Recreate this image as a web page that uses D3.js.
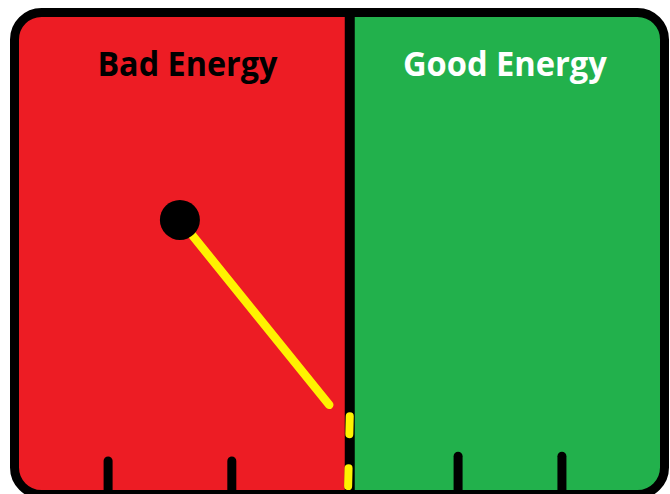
<!DOCTYPE html>
<meta charset="utf-8">
<html>
  <head>
    <style>
     body { margin: 0; background: #fff; }
     text.label {
       font-family: "Open Sans", "DejaVu Sans", sans-serif;
       font-weight: 700;
       font-size: 34px;
     }
    </style>
    <script src="https://d3js.org/d3.v7.min.js"></script>
  </head>
  <body>
    <div id="chart"></div>
    <script type="text/javascript">
     // meter read in 0..100 units on both axes of the inner panel
     var zones = ["Bad Energy", "Good Energy"],
         zoneFrom = [0, 51.6],
         zoneTo = [51.6, 100],
         zoneColors = ["#ED1C24", "#22B14C"],
         labelColors = ["#000", "#fff"],
         labelWidths = [180, 204],
         tickValues = [13.9, 33.2, 68.5, 84.7],
         tickTops = [93, 93, 92, 92],
         divider = 51.6,
         needleFrom = [25.1, 42.9],
         needleTo = [48.4, 82.0],
         markerFrom = [51.6, 84.4],
         markerTo = [51.3, 102];

     var width = 670, height = 494;
     var box = { left: 14.5, top: 12.5, right: 664.5, bottom: 494.5 };

     var x = d3.scaleLinear().domain([0, 100]).range([19, 660]);
     var y = d3.scaleLinear().domain([0, 100]).range([17, 490]);

     var svg = d3.select("#chart").append("svg")
                 .attr("width", width)
                 .attr("height", height);

     svg.append("clipPath").attr("id", "frame")
        .append("rect")
        .attr("x", box.left).attr("y", box.top)
        .attr("width", box.right - box.left)
        .attr("height", box.bottom - box.top)
        .attr("rx", 27).attr("ry", 27);

     var panel = svg.append("g").attr("clip-path", "url(#frame)");

     panel.selectAll(".zone")
          .data(zones)
          .enter().append("rect")
          .attr("class", "zone")
          .attr("x", function (d, i) { return i === 0 ? 0 : x(zoneFrom[i]); })
          .attr("y", 0)
          .attr("width", function (d, i) {
            return i === 0 ? x(zoneTo[i]) : width - x(zoneFrom[i]);
          })
          .attr("height", height)
          .style("fill", function (d, i) { return zoneColors[i]; });

     // ticks along the bottom
     panel.selectAll(".tick")
          .data(tickValues)
          .enter().append("line")
          .attr("x1", function (d) { return x(d); })
          .attr("x2", function (d) { return x(d); })
          .attr("y1", function (d, i) { return y(tickTops[i]) + 4; })
          .attr("y2", height + 10)
          .attr("stroke", "#000")
          .attr("stroke-width", 9)
          .attr("stroke-linecap", "round");

     // divider
     panel.append("line")
          .attr("x1", x(divider)).attr("x2", x(divider))
          .attr("y1", 0).attr("y2", height)
          .attr("stroke", "#000")
          .attr("stroke-width", 10);

     // yellow dashes on the divider
     panel.append("line")
          .attr("x1", x(markerFrom[0])).attr("y1", y(markerFrom[1]))
          .attr("x2", x(markerTo[0])).attr("y2", y(markerTo[1]))
          .attr("stroke", "#FFF200")
          .attr("stroke-width", 8)
          .attr("stroke-linecap", "round")
          .attr("stroke-dasharray", "18 34");

     // needle
     panel.append("line")
          .attr("x1", x(needleFrom[0])).attr("y1", y(needleFrom[1]))
          .attr("x2", x(needleTo[0])).attr("y2", y(needleTo[1]))
          .attr("stroke", "#FFF200")
          .attr("stroke-width", 8.5)
          .attr("stroke-linecap", "round");

     panel.append("circle")
          .attr("cx", x(needleFrom[0]))
          .attr("cy", y(needleFrom[1]))
          .attr("r", 20)
          .style("fill", "#000");

     panel.selectAll(".label")
          .data(zones)
          .enter().append("text")
          .attr("class", "label")
          .attr("x", function (d, i) {
            return (x(zoneFrom[i]) + x(zoneTo[i])) / 2 + (i === 0 ? 3 : 0);
          })
          .attr("y", 76)
          .attr("text-anchor", "middle")
          .attr("textLength", function (d, i) { return labelWidths[i]; })
          .attr("lengthAdjust", "spacingAndGlyphs")
          .style("fill", function (d, i) { return labelColors[i]; })
          .text(function (d) { return d; });

     // frame
     svg.append("rect")
        .attr("x", box.left).attr("y", box.top)
        .attr("width", box.right - box.left)
        .attr("height", box.bottom - box.top)
        .attr("rx", 27).attr("ry", 27)
        .attr("fill", "none")
        .attr("stroke", "#000")
        .attr("stroke-width", 9);
    </script>
  </body>
</html>
